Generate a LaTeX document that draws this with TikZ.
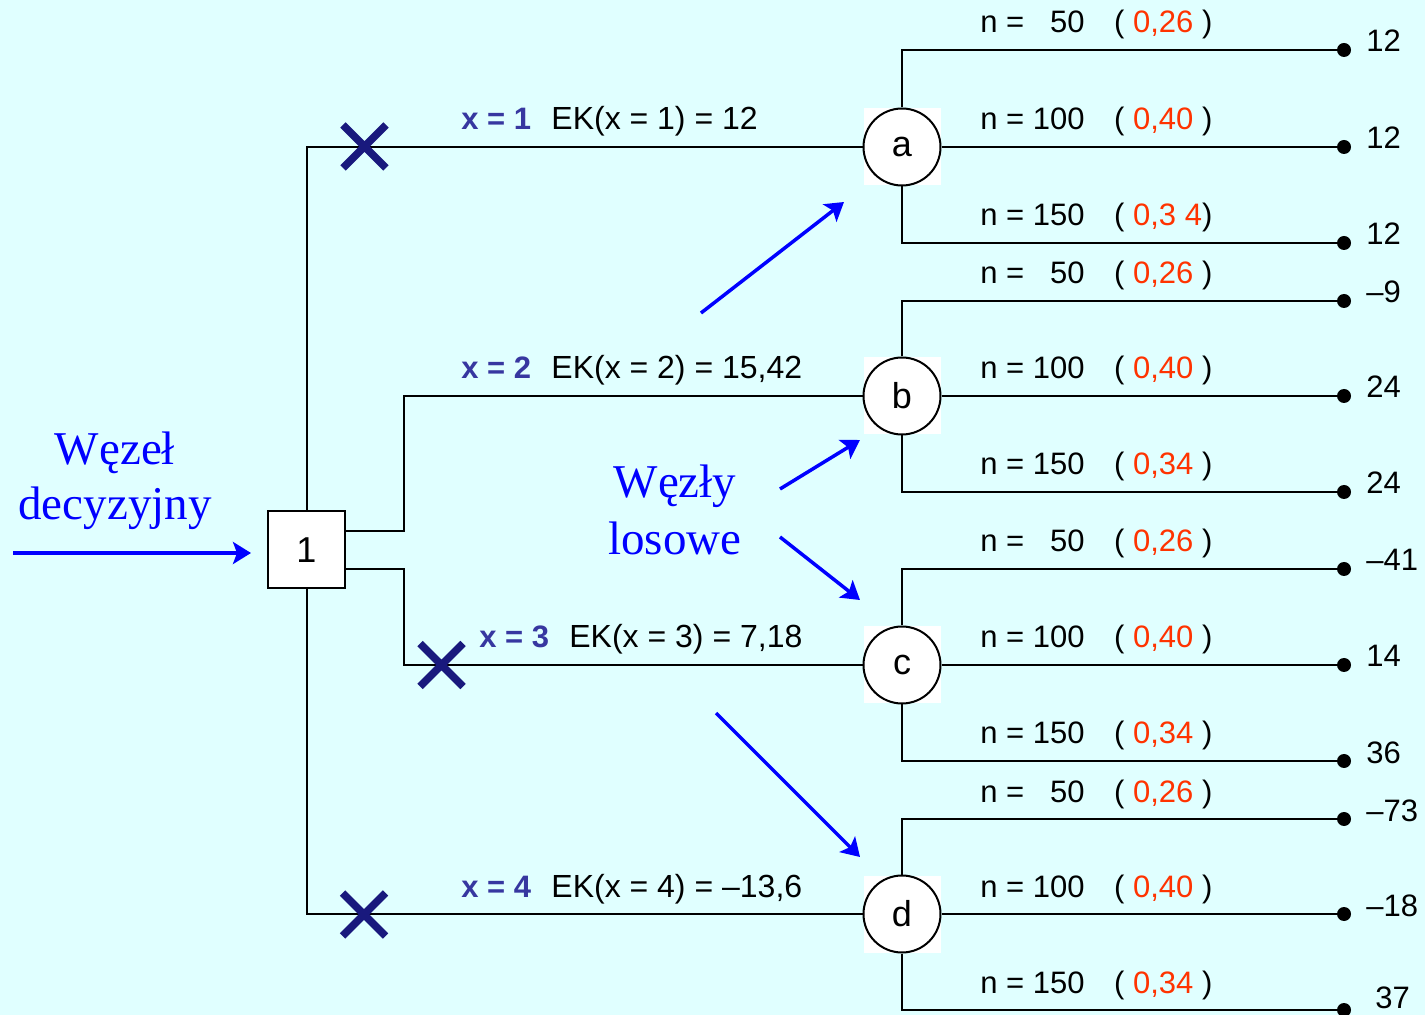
\documentclass[tikz,border=0pt]{standalone}
\usepackage{fontspec}
\setmainfont{Liberation Sans}
\newfontfamily\tnrfont{Liberation Serif}
\usetikzlibrary{arrows.meta, positioning}
\definecolor{bgcyan}{RGB}{224,255,255}
\definecolor{pred}{RGB}{255,51,0}
\definecolor{xlabblue}{RGB}{55,55,160}
\definecolor{crossblue}{RGB}{25,25,125}
\newcommand\nlab[2]{n = \makebox[1.668em][r]{#1}\hspace{0.95em}( \textcolor{pred}{#2})}

\begin{document}
\begin{tikzpicture}[x=0.5pt, y=-0.5pt,
  every node/.style={font=\fontsize{15.5}{18}\selectfont, inner sep=0pt},
  line/.style={line width=1pt},
  decbox/.style={draw, line width=1pt, fill=white, minimum size=38.5pt, font=\fontsize{18}{20}\selectfont},
  chance/.style={draw, circle, line width=1pt, fill=white, minimum size=38.5pt, font=\fontsize{18}{20}\selectfont},
  leaf/.style={circle, fill=black, minimum size=7pt},
  xlab/.style={font=\fontsize{15.5}{18}\bfseries\selectfont, text=xlabblue, anchor=base west},
  eklab/.style={font=\fontsize{16}{18}\selectfont, anchor=base west},
  blab/.style={anchor=base west},
  payoff/.style={anchor=base west},
  xmark/.style={line width=3.8pt, crossblue},
  pointer/.style={line width=1.75pt, blue, -{Stealth[length=9pt, width=11pt, inset=2pt]}},
  note/.style={font=\tnrfont\fontsize{23.5}{26}\selectfont, text=blue, anchor=base}]
  \useasboundingbox (0,0) rectangle (1425,1015);
  \fill[bgcyan] (0,0) rectangle (1425,1015);

  % decision node and chance nodes
  \node[decbox] (box) at (306.5,550) {1};
  \foreach \n/\y in {a/147, b/396, c/665, d/914}{
    \fill[white] (902-38.5,\y-38.5) rectangle ++(77,77);
    \node[chance] (\n) at (902,\y) {\n};
  }
  \draw[line] (box.north) |- (a.west);
  \draw[line] ([yshift=9.5pt]box.east) -- ++(58,0) |- (b.west);
  \draw[line] ([yshift=-9.5pt]box.east) -- ++(58,0) |- (c.west);
  \draw[line] (box.south) |- (d.west);

  \node[xlab] (x1) at (461,130) {x = 1};
  \node[eklab] (ek1) at (551,130) {EK(x = 1) = 12};
  \node[xlab] (x2) at (461,379) {x = 2};
  \node[eklab] (ek2) at (551,379) {EK(x = 2) = 15,42};
  \node[xlab] (x3) at (479,648) {x = 3};
  \node[eklab] (ek3) at (569,648) {EK(x = 3) = 7,18};
  \node[xlab] (x4) at (461,897) {x = 4};
  \node[eklab] (ek4) at (551,897) {EK(x = 4) = –13,6};

  % rejected alternatives
  \foreach \cx/\cy in {364.5/146.5, 441.5/665, 364/914.5}
    \draw[xmark] (\cx-21.5,\cy-21.5) -- ++(43,43) (\cx-21.5,\cy+21.5) -- ++(43,-43);

  % chance branches with payoffs
  \foreach \n/\ya/\yb/\yc/\va/\vb/\vc/\pc in {
    a/50/147/243/12/12/12/{0,3 4},
    b/301/396/492/–9/24/24/{0,34\ },
    c/569/665/761/–41/14/36/{0,34\ },
    d/819/914/1010/–73/–18/{\kern4.5pt\raisebox{2pt}{37}}/{0,34\ }}{
    \node[leaf] (\n1) at (1344,\ya) {};
    \node[leaf] (\n2) at (1344,\yb) {};
    \node[leaf] (\n3) at (1344,\yc) {};
    \draw[line] (\n.north) |- (\n1);
    \draw[line] (\n) -- (\n2);
    \draw[line] (\n.south) |- (\n3);
    \node[blab] at (980,\ya-17) {\nlab{50}{0,26\ }};
    \node[blab] at (980,\yb-17) {\nlab{100}{0,40\ }};
    \node[blab] at (980,\yc-17) {\nlab{150}{\pc}};
    \node[payoff] at (1366,\ya+2) {\va};
    \node[payoff] at (1366,\yb+2) {\vb};
    \node[payoff] at (1366,\yc+2) {\vc};
  }

  % annotations
  \node[note] (dec1) at (115,465) {Węzeł};
  \node[note] (dec2) at (115,520) {decyzyjny};
  \node[note] (los1) at (675,498) {Węzły};
  \node[note] (los2) at (675,555) {losowe};
  \coordinate (decin) at (13,553);
  \draw[pointer, shorten >=8pt] (decin) -- (decin -| box.west);
  \foreach \i/\sx/\sy/\ex/\ey in {1/701/313/844/202, 2/780/489/860/440, 3/780/537/860/600, 4/716/713/860/857}{
    \coordinate (p\i) at (\sx,\sy);
    \coordinate (q\i) at (\ex,\ey);
    \draw[pointer] (p\i) -- (q\i);
  }
\end{tikzpicture}
\end{document}
